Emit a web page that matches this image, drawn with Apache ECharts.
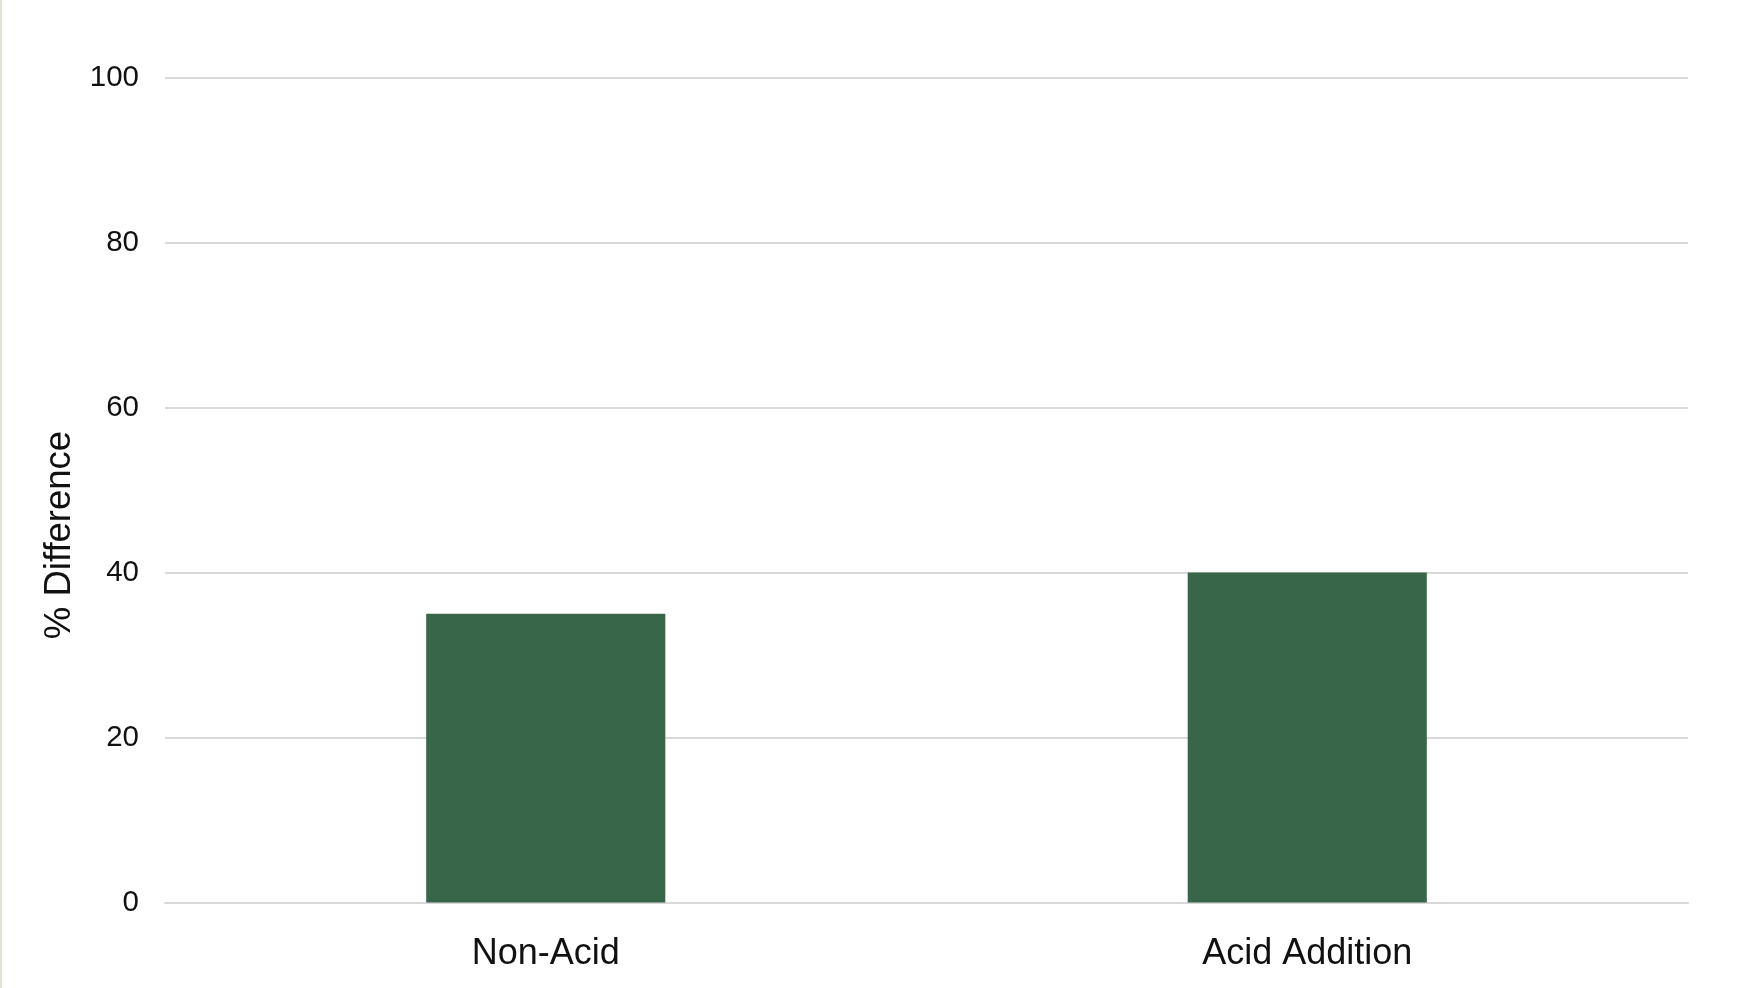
<!DOCTYPE html>
<html>
<head>
<meta charset="utf-8">
<script src="https://cdn.jsdelivr.net/npm/echarts@6/dist/echarts.min.js"></script>
<style>
  html, body { margin: 0; padding: 0; background: #ffffff; }
  #chart { width: 1762px; height: 988px; }
</style>
</head>
<body>
<div id="chart"></div>
<script>
// Percent difference by treatment
const categories = ['Non-Acid', 'Acid Addition'];
const pctDifference = [35, 40];
const yTicks = { min: 0, max: 100, interval: 20 };
const yTitle = '% Difference';

const FONT = '"Liberation Sans", Arial, sans-serif';
const chart = echarts.init(document.getElementById('chart'), null, { renderer: 'canvas' });

chart.setOption({
  backgroundColor: '#ffffff',
  animation: false,
  grid: { left: 165, right: 74, top: 77.5, bottom: 85.5, containLabel: false },
  xAxis: {
    type: 'category',
    data: categories,
    axisLine: { show: true, lineStyle: { color: '#d9d9d9', width: 2 } },
    axisTick: { show: false },
    axisLabel: { color: '#111111', fontFamily: FONT, fontSize: 36, margin: 34 }
  },
  yAxis: {
    type: 'value',
    min: yTicks.min,
    max: yTicks.max,
    interval: yTicks.interval,
    axisLine: { show: false },
    axisTick: { show: false },
    splitLine: { lineStyle: { color: '#d9d9d9', width: 2 } },
    axisLabel: { color: '#111111', fontFamily: FONT, fontSize: 29.5, margin: 26 }
  },
  graphic: [
    {
      type: 'rect',
      left: 0, top: 0,
      shape: { width: 2, height: 988 },
      style: { fill: '#e6e2d3' }
    },
    {
      type: 'text',
      x: 60, y: 535,
      rotation: Math.PI / 2,
      style: {
        text: yTitle,
        fontFamily: FONT,
        fontSize: 36.5,
        fill: '#111111',
        align: 'center',
        verticalAlign: 'middle'
      }
    }
  ],
  series: [{
    type: 'bar',
    data: pctDifference,
    barWidth: '31.4%',
    itemStyle: { color: '#386649' }
  }]
});
</script>
</body>
</html>
